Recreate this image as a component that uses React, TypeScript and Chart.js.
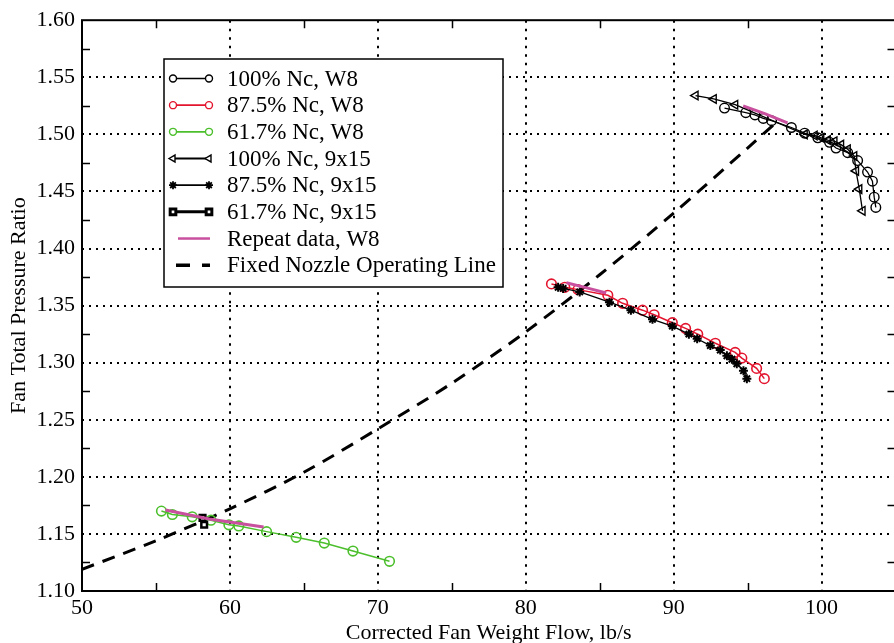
import React, { useEffect, useRef } from 'react';
import { Chart, registerables } from 'chart.js';
import { drawPoint } from 'chart.js/helpers';

Chart.register(...registerables);

// ---- data ----
const N100_W8_X = [93.44, 94.88, 95.5, 96.06, 96.62, 97.96, 98.86, 99.75, 100.54, 100.98, 101.77, 102.44, 103.11, 103.44, 103.56, 103.67];
const N100_W8_Y = [1.523, 1.519, 1.517, 1.514, 1.512, 1.506, 1.501, 1.497, 1.493, 1.488, 1.484, 1.477, 1.467, 1.459, 1.445, 1.436];

const N875_W8_X = [81.74, 82.64, 83.53, 85.55, 86.55, 87.9, 88.68, 89.91, 90.81, 91.63, 92.82, 94.16, 94.61, 95.61, 96.13];
const N875_W8_Y = [1.369, 1.366, 1.364, 1.359, 1.352, 1.346, 1.342, 1.335, 1.33, 1.325, 1.317, 1.309, 1.304, 1.295, 1.286];

const N617_W8_X = [55.37, 56.11, 57.45, 58.72, 59.93, 60.6, 62.48, 64.48, 66.38, 68.32, 70.79];
const N617_W8_Y = [1.17, 1.167, 1.165, 1.162, 1.158, 1.157, 1.152, 1.147, 1.142, 1.135, 1.126];

const N100_915_X = [91.48, 92.71, 94.16, 98.86, 99.53, 99.98, 100.42, 100.87, 101.32, 101.77, 102.21, 102.33, 102.55, 102.77];
const N100_915_Y = [1.534, 1.531, 1.526, 1.5, 1.499, 1.497, 1.495, 1.494, 1.491, 1.487, 1.481, 1.468, 1.452, 1.433];

const N875_915_X = [82.19, 82.53, 83.65, 85.66, 87.11, 88.57, 89.91, 91.03, 91.59, 92.48, 93.15, 93.6, 93.94, 94.27, 94.72, 94.95];
const N875_915_Y = [1.366, 1.365, 1.362, 1.353, 1.346, 1.338, 1.332, 1.325, 1.321, 1.315, 1.311, 1.306, 1.303, 1.299, 1.293, 1.286];

const N617_915_X = [58.15, 58.26];
const N617_915_Y = [1.164, 1.158];

const REPEAT_A_X = [94.7, 96.2, 97.7];
const REPEAT_A_Y = [1.525, 1.518, 1.51];
const REPEAT_B_X = [82.75, 84.0, 85.44];
const REPEAT_B_Y = [1.37, 1.366, 1.361];
const REPEAT_C_X = [55.64, 58.6, 62.28];
const REPEAT_C_Y = [1.171, 1.163, 1.156];

const OPLINE_X = [50, 55, 60, 65, 70, 75, 80, 85, 90, 95, 96.9];
const OPLINE_Y = [1.119, 1.144, 1.172, 1.204, 1.242, 1.282, 1.327, 1.377, 1.431, 1.488, 1.51];

const X_TICKS = [50, 60, 70, 80, 90, 100];
const Y_TICKS = [1.1, 1.15, 1.2, 1.25, 1.3, 1.35, 1.4, 1.45, 1.5, 1.55, 1.6];
const X_MINOR = [55, 65, 75, 85, 95];
const Y_MINOR = [1.125, 1.175, 1.225, 1.275, 1.325, 1.375, 1.425, 1.475, 1.525, 1.575];

const X_TITLE = 'Corrected Fan Weight Flow, lb/s';
const Y_TITLE = 'Fan Total Pressure Ratio';

const RED = '#e3142e';
const GREEN = '#4cbf2c';
const MAGENTA = '#c8509e';
const FONT = '"Liberation Serif", "Times New Roman", serif';

const LEGEND_ITEMS = [
  { label: '100% Nc, W8', color: '#000', style: 'circle', lw: 1.6 },
  { label: '87.5% Nc, W8', color: RED, style: 'circle', lw: 1.6 },
  { label: '61.7% Nc, W8', color: GREEN, style: 'circle', lw: 1.6 },
  { label: '100% Nc, 9x15', color: '#000', style: 'triangle', lw: 1.8 },
  { label: '87.5% Nc, 9x15', color: '#000', style: 'star', lw: 1.8 },
  { label: '61.7% Nc, 9x15', color: '#000', style: 'rect', lw: 3 },
  { label: 'Repeat data, W8', color: MAGENTA, style: 'line', lw: 2.5 },
  { label: 'Fixed Nozzle Operating Line', color: '#000', style: 'dash', lw: 3.5 },
];

const pts = (xs: number[], ys: number[]) => xs.map((x, i) => ({ x, y: ys[i] }));

const framePlugin = {
  id: 'frame',
  beforeDatasetsDraw(chart: any) {
    const { ctx, chartArea: a, scales } = chart;
    const x = scales.x, y = scales.y;
    ctx.save();
    ctx.strokeStyle = '#000';
    ctx.lineWidth = 2;
    ctx.setLineDash([2.5, 6]);
    X_TICKS.slice(1).forEach((v) => {
      const px = Math.round(x.getPixelForValue(v));
      ctx.beginPath(); ctx.moveTo(px, a.top); ctx.lineTo(px, a.bottom); ctx.stroke();
    });
    ctx.setLineDash([2, 5]);
    Y_TICKS.slice(1, -1).forEach((v) => {
      const py = Math.round(y.getPixelForValue(v));
      ctx.beginPath(); ctx.moveTo(a.left, py); ctx.lineTo(a.right, py); ctx.stroke();
    });
    ctx.setLineDash([]);
    ctx.lineWidth = 1.5;
    X_MINOR.forEach((v) => {
      const px = Math.round(x.getPixelForValue(v)) + 0.5;
      ctx.beginPath();
      ctx.moveTo(px, a.bottom); ctx.lineTo(px, a.bottom - 8);
      ctx.moveTo(px, a.top); ctx.lineTo(px, a.top + 8);
      ctx.stroke();
    });
    Y_MINOR.forEach((v) => {
      const py = Math.round(y.getPixelForValue(v)) + 0.5;
      ctx.beginPath();
      ctx.moveTo(a.left, py); ctx.lineTo(a.left + 8, py);
      ctx.moveTo(a.right, py); ctx.lineTo(a.right - 8, py);
      ctx.stroke();
    });
    ctx.lineWidth = 2;
    ctx.strokeRect(a.left, a.top, a.right - a.left, a.bottom - a.top);
    ctx.restore();
  },
};

const legendPlugin = {
  id: 'customLegend',
  afterDatasetsDraw(chart: any) {
    const ctx = chart.ctx;
    const bx = 164, by = 59, bw = 339, bh = 228;
    ctx.save();
    ctx.fillStyle = '#fff';
    ctx.fillRect(bx, by, bw, bh);
    ctx.strokeStyle = '#000';
    ctx.lineWidth = 1.5;
    ctx.strokeRect(bx, by, bw, bh);
    ctx.font = `23px ${FONT}`;
    ctx.textBaseline = 'middle';
    ctx.textAlign = 'left';
    LEGEND_ITEMS.forEach((it, i) => {
      const cy = by + 19.5 + i * 26.67;
      ctx.strokeStyle = it.color;
      ctx.fillStyle = it.color;
      ctx.lineWidth = it.lw;
      if (it.style === 'line') {
        ctx.beginPath(); ctx.moveTo(178, cy); ctx.lineTo(210, cy); ctx.stroke();
      } else if (it.style === 'dash') {
        ctx.beginPath(); ctx.moveTo(176, cy); ctx.lineTo(190, cy); ctx.moveTo(202, cy); ctx.lineTo(210, cy); ctx.stroke();
      } else {
        ctx.beginPath(); ctx.moveTo(173, cy); ctx.lineTo(209, cy); ctx.stroke();
        [173, 209].forEach((mx) => {
          ctx.fillStyle = '#fff';
          ctx.strokeStyle = it.color;
          ctx.lineWidth = it.style === 'rect' ? 3 : it.style === 'star' ? 1.8 : 1.4;
          drawPoint(ctx, {
            pointStyle: it.style,
            radius: it.style === 'circle' ? 3.5 : 4,
            rotation: it.style === 'triangle' ? -90 : 0,
            borderWidth: ctx.lineWidth,
          } as any, mx, cy);
        });
      }
      ctx.fillStyle = '#000';
      ctx.fillText(it.label, 227, cy + 1);
    });
    ctx.restore();
  },
};

export default function App() {
  const ref = useRef<HTMLCanvasElement>(null);
  useEffect(() => {
    if (!ref.current) return;
    const common = { showLine: true, fill: false };
    const chart = new Chart(ref.current, {
      type: 'scatter',
      data: {
        datasets: [
          { ...common, label: 'Repeat A', data: pts(REPEAT_A_X, REPEAT_A_Y), borderColor: MAGENTA, borderWidth: 3, pointRadius: 0, order: 0 },
          { ...common, label: 'Repeat B', data: pts(REPEAT_B_X, REPEAT_B_Y), borderColor: MAGENTA, borderWidth: 3, pointRadius: 0, order: 0 },
          { ...common, label: 'Repeat C', data: pts(REPEAT_C_X, REPEAT_C_Y), borderColor: MAGENTA, borderWidth: 3, pointRadius: 0, order: 0 },
          { ...common, label: '100% Nc, 9x15', data: pts(N100_915_X, N100_915_Y), borderColor: '#000', borderWidth: 1.3, pointStyle: 'triangle', rotation: -90, pointRadius: 5, pointBorderWidth: 1.4, pointBackgroundColor: 'rgba(0,0,0,0)', pointBorderColor: '#000', order: 1 },
          { ...common, label: '87.5% Nc, 9x15', data: pts(N875_915_X, N875_915_Y), borderColor: '#000', borderWidth: 1.3, pointStyle: 'star', pointRadius: 4.5, pointBorderWidth: 2, pointBorderColor: '#000', order: 1 },
          { ...common, label: '61.7% Nc, 9x15', data: pts(N617_915_X, N617_915_Y), borderColor: '#000', borderWidth: 2.5, pointStyle: 'rect', pointRadius: 4, pointBorderWidth: 2.5, pointBackgroundColor: '#fff', pointBorderColor: '#000', order: 1 },
          { ...common, label: '100% Nc, W8', data: pts(N100_W8_X, N100_W8_Y), borderColor: '#000', borderWidth: 1.3, pointStyle: 'circle', pointRadius: 4.8, pointBorderWidth: 1.4, pointBackgroundColor: 'rgba(0,0,0,0)', pointBorderColor: '#000', order: 2 },
          { ...common, label: '87.5% Nc, W8', data: pts(N875_W8_X, N875_W8_Y), borderColor: RED, borderWidth: 1.5, pointStyle: 'circle', pointRadius: 4.8, pointBorderWidth: 1.6, pointBackgroundColor: 'rgba(0,0,0,0)', pointBorderColor: RED, order: 2 },
          { ...common, label: '61.7% Nc, W8', data: pts(N617_W8_X, N617_W8_Y), borderColor: GREEN, borderWidth: 1.5, pointStyle: 'circle', pointRadius: 4.8, pointBorderWidth: 1.6, pointBackgroundColor: 'rgba(0,0,0,0)', pointBorderColor: GREEN, order: 2 },
          { ...common, label: 'Fixed Nozzle Operating Line', data: pts(OPLINE_X, OPLINE_Y), borderColor: '#000', borderWidth: 3, borderDash: [13, 9], pointRadius: 0, tension: 0.3, order: 5 },
        ],
      },
      options: {
        responsive: false,
        animation: false,
        layout: { padding: { left: 0, top: 19, right: 0, bottom: 0 } },
        plugins: { legend: { display: false }, tooltip: { enabled: false } },
        scales: {
          x: {
            type: 'linear', min: 50, max: 105,
            afterBuildTicks: (s: any) => { s.ticks = X_TICKS.map((v) => ({ value: v })); },
            afterFit: (s: any) => { s.height = 52; },
            grid: { display: false, drawTicks: false },
            border: { display: false },
            ticks: { color: '#000', font: { family: FONT, size: 22 }, padding: 4, maxRotation: 0, callback: (v: any) => String(v) },
            title: { display: true, text: X_TITLE, color: '#000', font: { family: FONT, size: 22 }, padding: { top: 0, bottom: -3 } },
          },
          y: {
            type: 'linear', min: 1.1, max: 1.6,
            afterBuildTicks: (s: any) => { s.ticks = Y_TICKS.map((v) => ({ value: v })); },
            afterFit: (s: any) => { s.width = 82; },
            grid: { display: false, drawTicks: false },
            border: { display: false },
            ticks: { color: '#000', font: { family: FONT, size: 22 }, padding: 7, callback: (v: any) => Number(v).toFixed(2) },
            title: { display: true, text: Y_TITLE, color: '#000', font: { family: FONT, size: 22 }, padding: { top: 6, bottom: 0 } },
          },
        },
      },
      plugins: [framePlugin, legendPlugin],
    } as any);
    return () => chart.destroy();
  }, []);
  return (
    <div style={{ position: 'fixed', left: 0, top: 0, width: 894, height: 643, overflow: 'hidden', background: '#fff' }}>
      <canvas ref={ref} width={902} height={643} style={{ width: 902, height: 643, display: 'block' }} />
    </div>
  );
}
